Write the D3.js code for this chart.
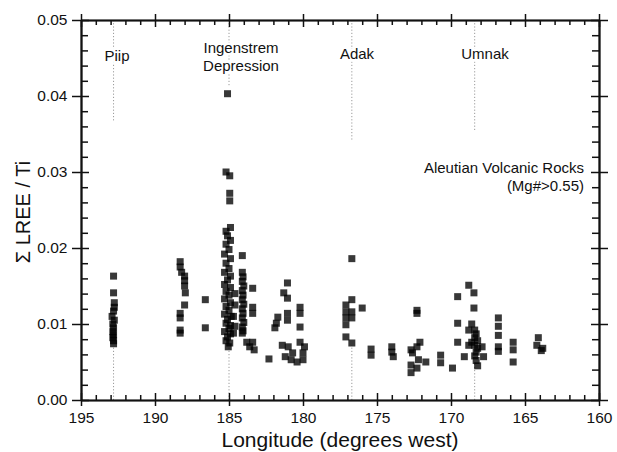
<!DOCTYPE html>
<html><head><meta charset="utf-8">
<script src="https://cdn.jsdelivr.net/npm/d3@7"></script>
<style>html,body{margin:0;padding:0;background:#fff;}svg{display:block;font-family:"Liberation Sans",Arial,Helvetica,sans-serif;}</style>
</head><body><svg id="c" width="617" height="452"></svg>
<script>
// ---- data (longitude °W, ΣLREE/Ti) ----
const piip = [[192.8,0.0163],[192.8,0.0141],[192.75,0.0128],[192.75,0.0122],[192.8,0.0117],[192.9,0.0110],[192.75,0.0105],[192.85,0.0100],[192.8,0.0095],[192.85,0.0090],[192.8,0.0086],[192.85,0.0082],[192.8,0.0078],[192.8,0.0074]];
const g188 = [[188.3,0.0182],[188.3,0.0175],[188.2,0.0168],[188.0,0.0163],[188.0,0.0157],[188.0,0.0150],[187.95,0.0141],[188.0,0.0125],[188.3,0.0114],[188.3,0.0108],[188.3,0.0092],[188.3,0.0088]];
const g186 = [[186.6,0.0132],[186.6,0.0095]];
const ingenstrem = [[185.1,0.0403],[185.2,0.0300],[184.95,0.0295],[184.95,0.0272],[184.95,0.0262],
 [184.9,0.0227],[185.2,0.0222],[185.1,0.0216],[184.9,0.0210],[185.2,0.0205],[185.0,0.0198],[185.3,0.0192],[184.9,0.0186],[185.2,0.0180],[185.0,0.0173],[185.3,0.0168],[184.9,0.0163],[185.1,0.0158],[185.3,0.0152],[184.9,0.0148],[185.2,0.0143],[185.0,0.0138],[185.3,0.0133],[184.9,0.0128],[185.2,0.0123],[185.0,0.0118],[185.3,0.0113],[184.85,0.0110],[185.1,0.0106],[185.2,0.0101],[184.9,0.0098],[185.0,0.0094],[185.3,0.0090],[184.9,0.0087],[185.1,0.0083],[185.2,0.0078],[184.95,0.0075],[185.05,0.0070],
 [184.6,0.0140],[184.6,0.0125],[184.7,0.0110],[184.6,0.0097],[184.7,0.0088]];
const g184 = [[184.1,0.0190],[184.1,0.0168],[184.05,0.0162],[184.1,0.0156],[184.0,0.0150],[184.1,0.0144],[184.05,0.0138],[184.1,0.0132],[184.0,0.0126],[184.1,0.0120],[184.05,0.0114],[184.1,0.0108],[184.0,0.0102],[184.1,0.0096],[184.05,0.0091],[184.1,0.0088],
 [183.4,0.0147],[183.4,0.0122],[183.4,0.0114],[183.8,0.0076],[183.4,0.0076],[183.3,0.0066],[183.6,0.0070]];
const g181 = [[182.3,0.0054],[181.05,0.0154],[181.3,0.0141],[181.05,0.0134],[181.05,0.0114],[181.05,0.0105],[181.7,0.0109],[181.8,0.0101],[181.9,0.0095],
 [180.2,0.0122],[180.2,0.0114],[180.2,0.0096],[181.4,0.0072],[181.0,0.0070],[180.7,0.0062],[180.4,0.0050],[180.2,0.0076],[179.9,0.0070],[180.0,0.0062],[180.0,0.0053],[181.2,0.0057],[180.8,0.0053]];
const adak = [[176.7,0.0186],[176.7,0.0132],[177.1,0.0125],[177.1,0.0116],[176.7,0.0116],[176.0,0.0121],[177.1,0.0108],[176.7,0.0108],[177.1,0.0099],[177.1,0.0083],[176.7,0.0075]];
const g174 = [[175.4,0.0067],[175.4,0.0059],[174.0,0.0070],[174.0,0.0063],[173.9,0.0057]];
const g172 = [[172.3,0.0118],[172.3,0.0114],[172.7,0.0066],[172.3,0.0070],[172.6,0.0062],[172.1,0.0076],[172.2,0.0053],[172.7,0.0046],[172.7,0.0036],[171.7,0.0050],[172.3,0.0042]];
const g170 = [[170.7,0.0059],[170.7,0.0049],[169.9,0.0042],[169.55,0.0136],[169.55,0.0101],[169.55,0.0076],[169.1,0.0057]];
const umnak = [[168.8,0.0151],[168.45,0.0141],[168.45,0.0121],[168.6,0.0100],[168.8,0.0092],[168.6,0.0076],[168.4,0.0092],[168.3,0.0087],[168.4,0.0082],[168.2,0.0078],[168.4,0.0072],[168.2,0.0068],[168.3,0.0063],[168.4,0.0058],[168.3,0.0052],[168.2,0.0045],[167.8,0.0057],[167.9,0.0070],[168.8,0.0072]];
const g166 = [[166.8,0.0108],[166.8,0.0097],[166.8,0.0085],[166.8,0.0070],[166.8,0.0064],[165.8,0.0076],[165.8,0.0066],[165.8,0.0050]];
const g164 = [[164.1,0.0082],[164.2,0.0072],[163.8,0.0068],[163.9,0.0065]];

const xMajor = [195,190,185,180,175,170,165,160];
const yMajor = [0,0.01,0.02,0.03,0.04,0.05];
const yTickLabels = ["0.00","0.01","0.02","0.03","0.04","0.05"];

// volcano reference lines: [name lines, longitude, top-segment end, bottom-segment end]
const volcanoNames = [["Piip"],["Ingenstrem","Depression"],["Adak"],["Umnak"]];
const volcanoLon = [192.8,185.0,176.7,168.4];
const volcanoTopEnd = [0.0366,0.0412,0.0340,0.0355];
const volcanoBotEnd = [0.0070,0.0070,0.0072,0.0050];
const noteLines = ["Aleutian Volcanic Rocks","(Mg#>0.55)"];

// ---- layout ----
const L=81,R=599,T=20,B=400;
const svg=d3.select("#c");
const x=d3.scaleLinear().domain([195,160]).range([L,R]);
const y=d3.scaleLinear().domain([0,0.05]).range([B,T]);

// reference dotted lines
const gl=svg.append("g").attr("stroke","#9a9a9a").attr("stroke-width",1).attr("stroke-dasharray","1.2,2");
volcanoLon.forEach((lon,i)=>{
  gl.append("line").attr("x1",x(lon)).attr("x2",x(lon)).attr("y1",y(0.05)).attr("y2",y(volcanoTopEnd[i]));
  gl.append("line").attr("x1",x(lon)).attr("x2",x(lon)).attr("y1",y(0)).attr("y2",y(volcanoBotEnd[i]));
});

// labels
const labX=[117,241,357,485], labY=[[61],[53,71],[59],[59]];
volcanoNames.forEach((lines,i)=>{
  lines.forEach((t,j)=>{
    svg.append("text").attr("x",labX[i]).attr("y",labY[i][j]).attr("text-anchor","middle")
      .attr("font-size",15).attr("fill","#111").attr("stroke","#fff").attr("stroke-width",5)
      .attr("paint-order","stroke").text(t);
  });
});
noteLines.forEach((t,j)=>{
  svg.append("text").attr("x",584).attr("y",173+j*18).attr("text-anchor","end")
    .attr("font-size",15).attr("fill","#111").text(t);
});

// points
const all=[].concat(piip,g188,g186,ingenstrem,g184,g181,adak,g174,g172,g170,umnak,g166,g164);
const s=7;
svg.append("g").selectAll("rect").data(all).join("rect")
  .attr("x",d=>x(d[0])-s/2).attr("y",d=>y(d[1])-s/2).attr("width",s).attr("height",s)
  .attr("fill","#000").attr("fill-opacity",0.78);

// axes
const xMinor=d3.range(160,196,1).filter(v=>v%5!==0);
const yMinor=d3.range(0,0.0501,0.002).filter(v=>Math.abs(v*100-Math.round(v*100))>1e-6);
function style(g){g.selectAll("path,line").attr("stroke","#111").attr("stroke-width",1.5);g.select(".domain").attr("stroke-width",1.6);}
const nolab=()=>"";
// bottom
svg.append("g").attr("transform",`translate(0,${B})`).call(d3.axisBottom(x).tickValues(xMajor).tickSize(6).tickSizeOuter(0).tickFormat(d3.format("d")))
 .call(g=>{style(g);g.selectAll("text").attr("font-size",15.5).attr("fill","#111").attr("dy","0.9em").attr("font-family","Liberation Sans, Arial, sans-serif");});
svg.append("g").attr("transform",`translate(0,${B})`).call(d3.axisBottom(x).tickValues(xMajor).tickSize(-7).tickSizeOuter(0).tickFormat(nolab)).call(style);
svg.append("g").attr("transform",`translate(0,${B})`).call(d3.axisBottom(x).tickValues(xMinor).tickSize(-5).tickSizeOuter(0).tickFormat(nolab)).call(style);
// top
svg.append("g").attr("transform",`translate(0,${T})`).call(d3.axisTop(x).tickValues(xMajor).tickSize(6).tickSizeOuter(0).tickFormat(nolab)).call(style);
svg.append("g").attr("transform",`translate(0,${T})`).call(d3.axisTop(x).tickValues(xMajor).tickSize(-7).tickSizeOuter(0).tickFormat(nolab)).call(style);
svg.append("g").attr("transform",`translate(0,${T})`).call(d3.axisTop(x).tickValues(xMinor).tickSize(-5).tickSizeOuter(0).tickFormat(nolab)).call(style);
// left
svg.append("g").attr("transform",`translate(${L},0)`).call(d3.axisLeft(y).tickValues(yMajor).tickSize(9).tickSizeOuter(0).tickFormat((d,i)=>yTickLabels[i]))
 .call(g=>{style(g);g.selectAll("text").attr("font-size",15.5).attr("fill","#111").attr("dx","-0.1em").attr("font-family","Liberation Sans, Arial, sans-serif");});
svg.append("g").attr("transform",`translate(${L},0)`).call(d3.axisLeft(y).tickValues(yMajor).tickSize(-8).tickSizeOuter(0).tickFormat(nolab)).call(style);
svg.append("g").attr("transform",`translate(${L},0)`).call(d3.axisLeft(y).tickValues(yMinor).tickSize(-7).tickSizeOuter(0).tickFormat(nolab)).call(style);
// right
svg.append("g").attr("transform",`translate(${R},0)`).call(d3.axisRight(y).tickValues(yMajor).tickSize(9).tickSizeOuter(0).tickFormat(nolab)).call(style);
svg.append("g").attr("transform",`translate(${R},0)`).call(d3.axisRight(y).tickValues(yMajor).tickSize(-8).tickSizeOuter(0).tickFormat(nolab)).call(style);
svg.append("g").attr("transform",`translate(${R},0)`).call(d3.axisRight(y).tickValues(yMinor).tickSize(-7).tickSizeOuter(0).tickFormat(nolab)).call(style);

// titles
svg.append("text").attr("x",(L+R)/2).attr("y",447).attr("text-anchor","middle").attr("font-size",21).attr("fill","#111").text("Longitude (degrees west)");
svg.append("text").attr("transform",`translate(30,212) rotate(-90)`).attr("text-anchor","middle").attr("font-size",20).attr("fill","#111").text("Σ LREE / Ti");
</script></body></html>
